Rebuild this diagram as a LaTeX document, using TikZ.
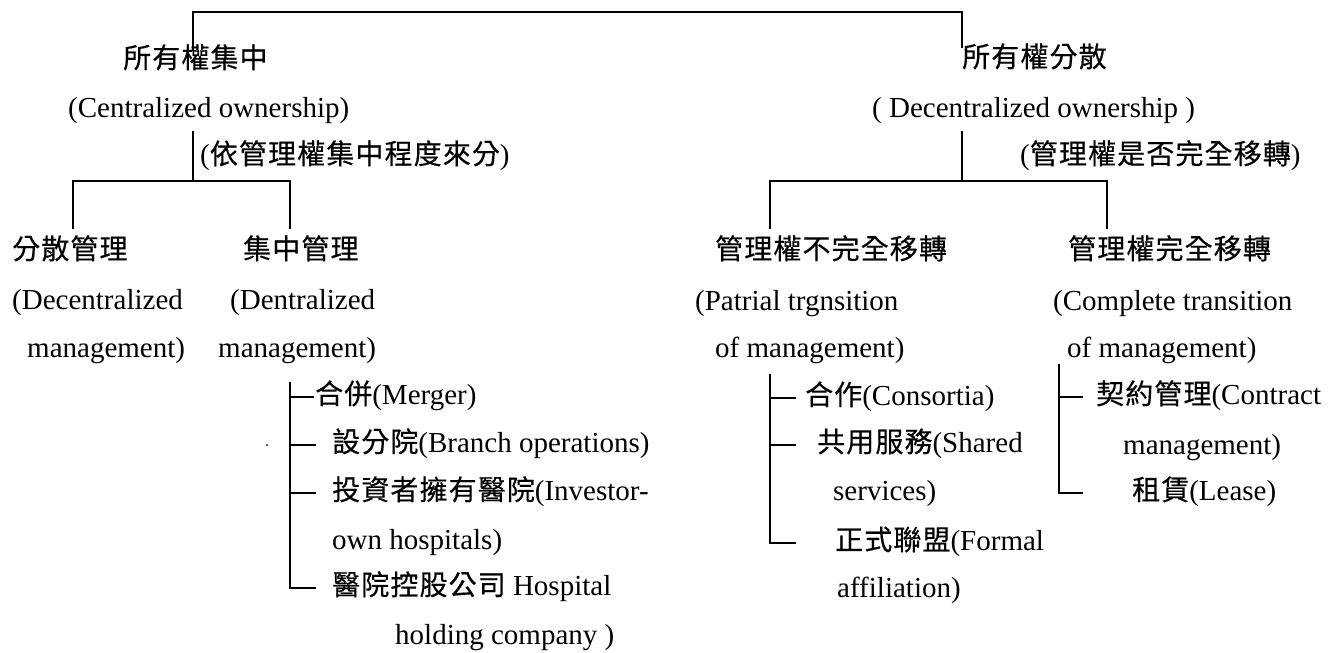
\documentclass[tikz,border=0pt]{standalone}
\usepackage{fontspec}
\setmainfont{Liberation Serif}
\newfontfamily\cjkfont[LetterSpace=4,FakeBold=0.4]{Noto Sans CJK TC}
\newcommand\zh[1]{{\cjkfont\fontsize{28}{34}\selectfont #1}}
\tikzset{
  lbl/.style={anchor=west,inner sep=0pt,text height=21pt,text depth=7pt,font=\fontsize{29}{34}\selectfont},
  conn/.style={line width=1.4pt,line cap=rect},
}
\begin{document}
\begin{tikzpicture}[x=1pt,y=-1pt]
\useasboundingbox (0,0) rectangle (1339,653);
% left branch
\node[lbl] (co1) at (123,61) {\zh{所有權集中}};
\node[lbl] (co2) at (68,110) {(Centralized ownership)};
\node[lbl] (cl)  at (200,157) {(\zh{依管理權集中程度來分})};
\node[lbl] (dm1) at (12,252) {\zh{分散管理}};
\node[lbl] (dm2) at (12,302) {(Decentralized};
\node[lbl] (dm3) at (27,350) {management)};
\node[lbl] (cm1) at (243,252) {\zh{集中管理}};
\node[lbl] (cm2) at (230,302) {(Dentralized};
\node[lbl] (cm3) at (218,350) {management)};
\node[lbl] (m1) at (315,397) {\zh{合併}(Merger)};
\node[lbl] (m2) at (332,445) {\zh{設分院}(Branch operations)};
\node[lbl] (m3) at (332,493) {\zh{投資者擁有醫院}(Investor-};
\node[lbl] (m3b) at (332,542) {own hospitals)};
\node[lbl] (m4) at (332,588) {\zh{醫院控股公司} Hospital};
\node[lbl] (m4b) at (395,637) {holding company )};
\node[circle,fill,inner sep=0pt,minimum size=2pt] (dot) at (267,445) {};
% right branch
\node[lbl] (do1) at (962,60) {\zh{所有權分散}};
\node[lbl] (do2) at (872,110) {( Decentralized ownership )};
\node[lbl] (dl)  at (1020,157) {(\zh{管理權是否完全移轉})};
\node[lbl] (pt1) at (715,252) {\zh{管理權不完全移轉}};
\node[lbl] (pt2) at (695,303) {(Patrial trgnsition};
\node[lbl] (pt3) at (715,350) {of management)};
\node[lbl] (ct1) at (1068,252) {\zh{管理權完全移轉}};
\node[lbl] (ct2) at (1053,303) {(Complete transition};
\node[lbl] (ct3) at (1067,350) {of management)};
\node[lbl] (p1) at (805,398) {\zh{合作}(Consortia)};
\node[lbl] (p2) at (817,445) {\zh{共用服務}(Shared};
\node[lbl] (p2b) at (833,493) {services)};
\node[lbl] (p3) at (835,543) {\zh{正式聯盟}(Formal};
\node[lbl] (p3b) at (837,590) {affiliation)};
\node[lbl] (c1) at (1096,397) {\zh{契約管理}(Contract};
\node[lbl] (c1b) at (1123,447) {management)};
\node[lbl] (c2) at (1132,493) {\zh{租賃}(Lease)};
% junction coordinates
\coordinate (tL) at (193,12);
\coordinate (tR) at (962,12);
\coordinate (aL) at (193,132);
\coordinate (jL) at (193,181);
\coordinate (hL1) at (73,181);
\coordinate (hL2) at (290,181);
\coordinate (aR) at (962,132);
\coordinate (jR) at (962,181);
\coordinate (hR1) at (770,181);
\coordinate (hR2) at (1107,181);
\coordinate (bL) at (290,383);
\coordinate (bR1) at (770,375);
\coordinate (bR2) at (1059,365);
% connectors
\draw[conn] ([yshift=-3pt]co1.north -| tL) -- (tL) -- (tR) -- ([yshift=-1pt]do1.north -| tR);
\draw[conn] (aL) -- (jL);
\draw[conn] ([yshift=10pt]dm1.north -| hL1) -- (hL1) -- (hL2) -- ([yshift=10pt]cm1.north -| hL2);
\draw[conn] (aR) -- (jR);
\draw[conn] ([yshift=10pt]pt1.north -| hR1) -- (hR1) -- (hR2) -- ([yshift=10pt]ct1.north -| hR2);
\draw[conn] (bL) |- ([xshift=-2pt]m1.west);
\draw[conn] (bL) |- ([xshift=-17pt]m2.west);
\draw[conn] (bL) |- ([xshift=-17pt]m3.west);
\draw[conn] (bL) |- ([xshift=-17pt]m4.west);
\draw[conn] (bR1) |- ([xshift=-10pt]p1.west);
\draw[conn] (bR1) |- ([xshift=-22pt]p2.west);
\draw[conn] (bR1) |- ([xshift=-40pt]p3.west);
\draw[conn] (bR2) |- ([xshift=-14pt]c1.west);
\draw[conn] (bR2) |- ([xshift=-50pt]c2.west);
\end{tikzpicture}
\end{document}
